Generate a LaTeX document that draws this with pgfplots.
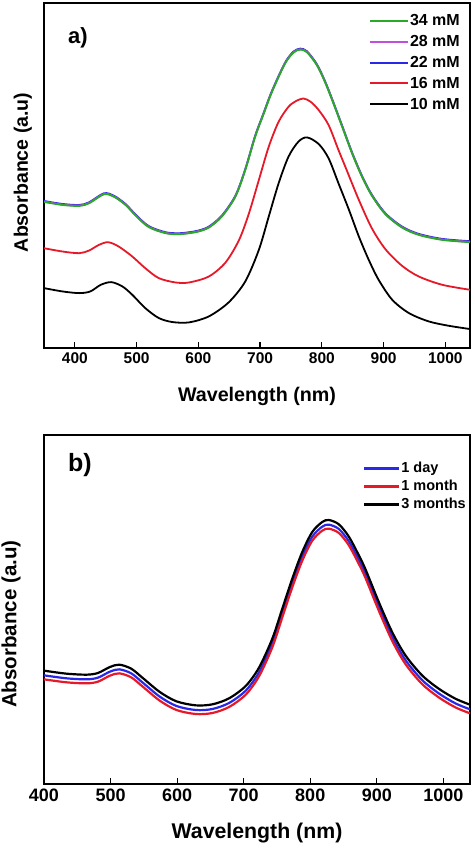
\documentclass[border=0pt]{standalone}
\usepackage{fontspec}
\setmainfont{Liberation Sans}
\usepackage{pgfplots}
\pgfplotsset{compat=1.18}
\usepackage{pgfplotstable}
\definecolor{cgreen}{RGB}{40,170,40}
\definecolor{cpurple}{RGB}{190,80,220}
\definecolor{cblue}{RGB}{40,40,230}
\definecolor{cred}{RGB}{230,25,40}

\pgfplotstableread{
x top pur blu
350 439 440 442
380 430 431 433
407 427 428 430
423 435 436 438
447 462 463 465
463 455 456 458
482 430 431 433
500 395 396 398
520 363 364 366
547 345 346 348
568 342 343 345
585 345 346 348
600 350 351 353
617 362 363 365
638 395 396 398
660 455 456 458
676 535 536 538
692 635 636 638
706 705 706 708
717 760 761 763
730 815 816 818
742 860 861 863
754 888 889 891
765 897 898 900
776 889 890 892
792 850 851 853
805 800 801 803
817 744 745 747
833 665 666 668
849 585 586 588
865 515 516 518
881 458 459 461
903 402 403 405
930 362 363 365
957 340 341 343
995 325 326 328
1040 318 319 321
}\tabAtop

\pgfplotstableread{
x y
350 300
380 290
407 285
423 293
439 310
454 318
471 305
493 275
514 240
536 210
563 197
585 197
617 215
644 257
666 325
682 405
698 505
714 605
730 680
746 725
758 742
770 750
782 740
795 715
811 670
827 595
838 545
860 445
881 360
903 297
930 247
957 215
995 190
1040 175
}\tabAred

\pgfplotstableread{
x y
350 180
380 170
407 165
425 170
442 190
459 198
477 185
493 160
514 120
536 90
558 78
585 77
617 95
649 137
676 200
698 295
714 395
730 495
746 575
762 620
776 633
795 613
811 570
827 495
844 415
860 335
876 265
892 205
914 145
941 105
973 80
1005 67
1040 57
}\tabAblack

\pgfplotstableread{
x blu red blk
400 326 314 340
434 317 305 331
464 314 302 328
481 319 307 333
499 337 325 351
513 344 332 358
531 332 320 346
549 303 291 317
574 262 250 276
599 234 222 248
628 222 210 236
653 225 213 239
678 243 231 257
703 280 268 294
723 335 323 349
743 422 410 436
758 512 500 526
773 602 590 616
788 682 670 696
803 742 730 756
818 772 760 786
828 778 766 792
843 765 753 779
858 728 716 742
873 672 660 686
883 630 618 644
903 532 520 546
923 442 430 456
943 372 360 386
968 312 300 326
993 272 260 286
1018 242 230 256
1040 224 212 238
}\tabB

\pgfplotsset{
  common/.style={
    scale only axis,
    width=426pt,
    xtick={400,500,...,1000},
    ytick=\empty,
    xtick pos=bottom,
    tick align=inside,
    major tick length=6pt,
    every tick/.style={black, line width=1.2pt},
    axis line style={line width=1.4pt},
    /pgf/number format/assume math mode=true,
    /pgf/number format/set thousands separator={},
    legend cell align=left,
  }
}

\begin{document}
\begin{tikzpicture}
\useasboundingbox (0,0) rectangle (474pt,-848pt);
% ---------- panel a ----------
\begin{axis}[common,
  at={(44pt,-3pt)}, anchor=north west, height=345pt,
  xmin=350, xmax=1040, ymin=0, ymax=1037,
  xticklabel style={font=\bfseries\fontsize{15.5}{18}\selectfont, yshift=-1pt},
  xlabel={Wavelength (nm)},
  xlabel style={font=\bfseries\fontsize{19.7}{22}\selectfont, at={(axis description cs:0.5,0)}, anchor=base, yshift=-53pt},
  ylabel={Absorbance (a.u)},
  ylabel style={font=\bfseries\fontsize{19.5}{22}\selectfont, at={(axis description cs:-0.0376,0.509)}, anchor=base},
  reverse legend,
  legend image code/.code={\draw[#1, line width=2pt] (0pt,0pt) -- (38pt,0pt);},
  legend style={at={(axis description cs:1,1)}, anchor=north east, xshift=-9pt, yshift=-9.7pt,
    draw=none, fill=none, inner sep=0pt, row sep=4.8pt,
    font=\bfseries\fontsize{16}{18}\selectfont,
    nodes={inner sep=1pt, text height=12pt, text depth=2pt}},
]
\addplot[black, line width=1.8pt, smooth] table[x=x, y=y] {\tabAblack};
\addlegendentry{10 mM}
\addplot[cred, line width=1.8pt, smooth] table[x=x, y=y] {\tabAred};
\addlegendentry{16 mM}
\addplot[cblue, line width=1.8pt, smooth] table[x=x, y=blu] {\tabAtop};
\addlegendentry{22 mM}
\addplot[cpurple, line width=1.8pt, smooth] table[x=x, y=pur] {\tabAtop};
\addlegendentry{28 mM}
\addplot[cgreen, line width=1.8pt, smooth] table[x=x, y=top] {\tabAtop};
\addlegendentry{34 mM}
\node[anchor=west, inner sep=0pt, font=\bfseries\fontsize{22}{24}\selectfont] at (axis description cs:0.056,0.899) {a)};
\end{axis}
% ---------- panel b ----------
\begin{axis}[common,
  at={(44pt,-435pt)}, anchor=north west, height=349pt,
  xmin=400, xmax=1040, ymin=0, ymax=1047,
  xticklabel style={font=\bfseries\fontsize{18}{20}\selectfont, yshift=-1pt},
  xlabel={Wavelength (nm)},
  xlabel style={font=\bfseries\fontsize{21.3}{24}\selectfont, at={(axis description cs:0.5,0)}, anchor=base, yshift=-54pt},
  ylabel={Absorbance (a.u)},
  ylabel style={font=\bfseries\fontsize{20.5}{24}\selectfont, at={(axis description cs:-0.0646,0.458)}, anchor=base},
  legend image code/.code={\draw[#1, line width=2.8pt] (0pt,0pt) -- (35pt,0pt);},
  legend style={at={(axis description cs:1,1)}, anchor=north east, xshift=-3pt, yshift=-25pt,
    draw=none, fill=none, inner sep=0pt, row sep=2.3pt,
    font=\bfseries\fontsize{14.5}{17}\selectfont,
    nodes={inner sep=1pt, text height=11pt, text depth=3pt}},
]
\addplot[cblue, line width=2.2pt, smooth] table[x=x, y=blu] {\tabB};
\addlegendentry{1 day}
\addplot[cred, line width=2.2pt, smooth] table[x=x, y=red] {\tabB};
\addlegendentry{1 month}
\addplot[black, line width=2.2pt, smooth] table[x=x, y=blk] {\tabB};
\addlegendentry{3 months}
\node[anchor=west, inner sep=0pt, font=\bfseries\fontsize{25}{27}\selectfont] at (axis description cs:0.056,0.915) {b)};
\end{axis}
\end{tikzpicture}
\end{document}
